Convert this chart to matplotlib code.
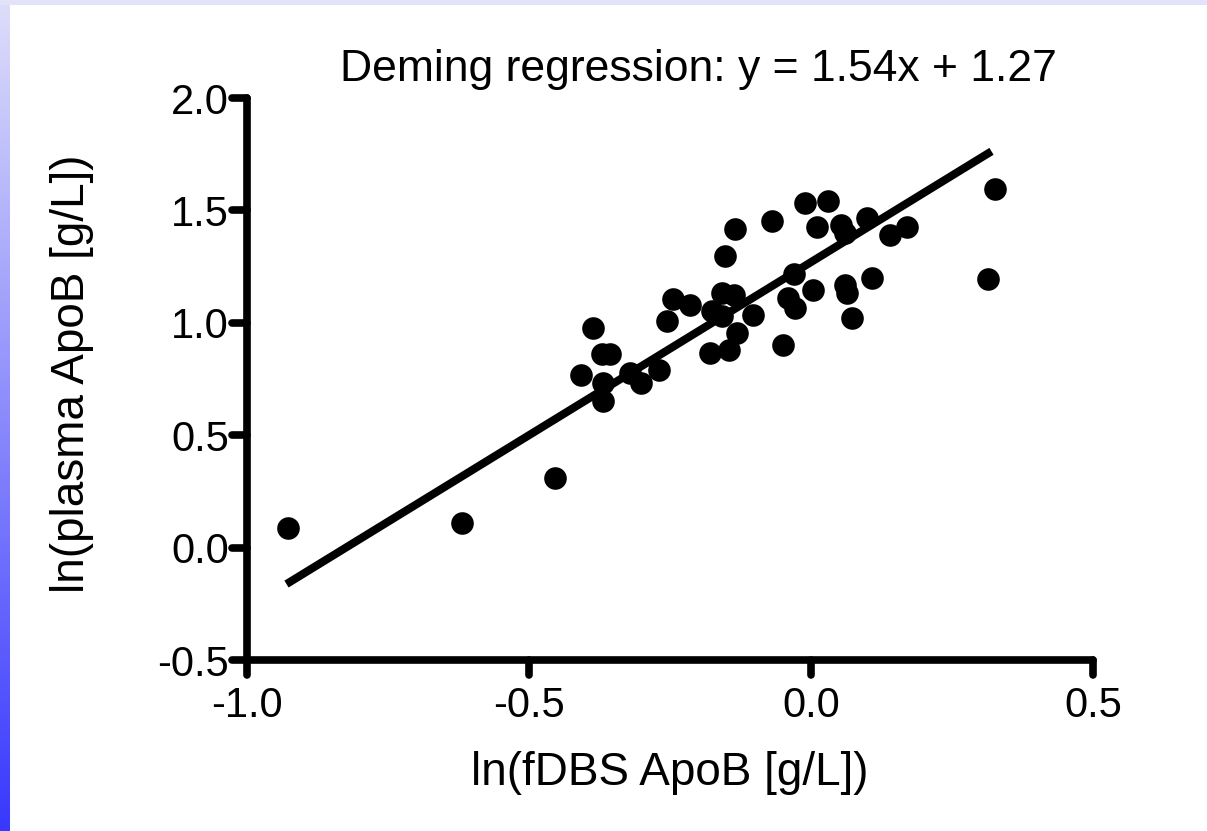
import numpy as np
import matplotlib
matplotlib.use("Agg")
import matplotlib.pyplot as plt
from matplotlib.markers import MarkerStyle
from matplotlib.lines import TICKDOWN, TICKLEFT

plt.rcParams['font.family'] = ['Liberation Sans', 'DejaVu Sans']

# ln(fDBS ApoB) vs ln(plasma ApoB)
fdbs = [-0.927, -0.619, -0.454, -0.407, -0.386, -0.371, -0.356, -0.369, -0.368,
        -0.321, -0.301, -0.270, -0.256, -0.244, -0.215, -0.179, -0.176, -0.158,
        -0.158, -0.137, -0.152, -0.135, -0.146, -0.132, -0.102, -0.070, -0.049,
        -0.040, -0.029, -0.031, -0.011, 0.004, 0.011, 0.031, 0.054, 0.060,
        0.060, 0.064, 0.072, 0.099, 0.108, 0.140, 0.170, 0.314, 0.326]
plasma = [0.085, 0.111, 0.311, 0.767, 0.977, 0.859, 0.859, 0.730, 0.651,
          0.777, 0.733, 0.792, 1.009, 1.104, 1.081, 0.866, 1.051, 1.029,
          1.133, 1.125, 1.296, 1.418, 0.881, 0.955, 1.033, 1.452, 0.903,
          1.111, 1.066, 1.219, 1.533, 1.145, 1.425, 1.540, 1.437, 1.400,
          1.170, 1.133, 1.022, 1.467, 1.200, 1.392, 1.425, 1.195, 1.597]

slope, intercept = 1.54, 1.27
line_x = [-0.93, 0.32]

xticks = [-1.0, -0.5, 0.0, 0.5]
yticks = [-0.5, 0.0, 0.5, 1.0, 1.5, 2.0]

fig = plt.figure(figsize=(12.07, 8.31), dpi=100)

# slide-style background: lavender top band, blue gradient down the left
bg = fig.add_axes([0, 0, 1, 1], zorder=-10)
bg.set_axis_off()
grad = np.linspace(0, 1, 256).reshape(-1, 1)
top_c = np.array([0.87, 0.87, 0.98])
bot_c = np.array([0.22, 0.22, 1.0])
img = top_c + (bot_c - top_c) * grad[..., None]
bg.imshow(img, extent=[0, 1, 0, 1], aspect='auto', origin='upper')
bg.add_patch(plt.Rectangle((0, 0.994), 1, 0.006, color='#e2e2f8', lw=0))
bg.add_patch(plt.Rectangle((10 / 1207, 0), 1, 0.994, color='white', lw=0))
bg.set_xlim(0, 1)
bg.set_ylim(0, 1)

ax = fig.add_axes([247 / 1207, 171 / 831, 846 / 1207, 562 / 831])
ax.patch.set_alpha(0)

ax.scatter(fdbs, plasma, s=265, color='black', zorder=3, linewidths=0)
lx = np.array(line_x)
ax.plot(lx, slope * lx + intercept, color='black', lw=5.8, zorder=2,
        solid_capstyle='butt')

ax.set_xlim(-1.0, 0.5)
ax.set_ylim(-0.5, 2.0)
ax.set_xticks(xticks)
ax.set_yticks(yticks)
ax.set_xticklabels([f"{v:.1f}" for v in xticks])
ax.set_yticklabels([f"{v:.1f}" for v in yticks])

for s in ['top', 'right']:
    ax.spines[s].set_visible(False)
for s in ['left', 'bottom']:
    ax.spines[s].set_linewidth(5.5)
    ax.spines[s].set_capstyle('round')

ax.tick_params(axis='both', width=5.5, length=11, labelsize=30, direction='out')
ax.tick_params(axis='x', pad=8)
ax.tick_params(axis='y', pad=2)
for t in ax.xaxis.get_major_ticks():
    t.tick1line.set_marker(MarkerStyle(TICKDOWN, capstyle='round'))
for t in ax.yaxis.get_major_ticks():
    t.tick1line.set_marker(MarkerStyle(TICKLEFT, capstyle='round'))

fig.text(670 / 1207, 1 - 773 / 831, "ln(fDBS ApoB [g/L])", fontsize=33,
         ha='center', va='center')
fig.text(72 / 1207, 1 - 374 / 831, "ln(plasma ApoB [g/L])", fontsize=33,
         ha='center', va='center', rotation=90)
fig.text(698 / 1207, 1 - 70 / 831, "Deming regression: y = 1.54x + 1.27",
         fontsize=32, ha='center', va='center')

fig.savefig("out.png", dpi=100)
